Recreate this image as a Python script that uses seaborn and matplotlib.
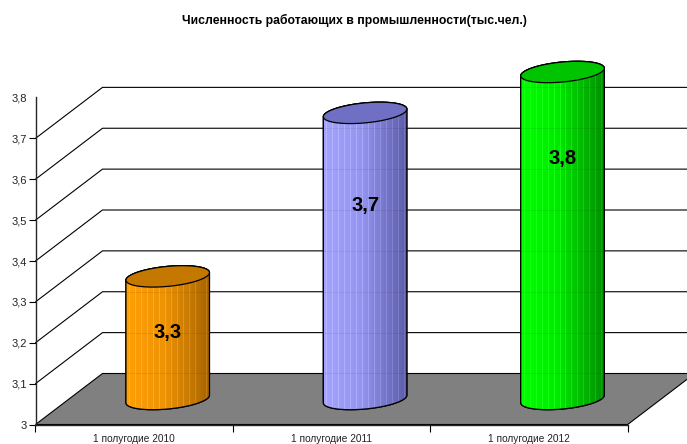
import numpy as np
import pandas as pd
import matplotlib
matplotlib.use("Agg")
import matplotlib.pyplot as plt
import seaborn as sns
from matplotlib.colors import to_rgb
from matplotlib.path import Path
from matplotlib.patches import PathPatch

periods = ["1 полугодие 2010", "1 полугодие 2011", "1 полугодие 2012"]
values = [3.3, 3.7, 3.8]
value_labels = ["3,3", "3,7", "3,8"]
y_ticks = [3, 3.1, 3.2, 3.3, 3.4, 3.5, 3.6, 3.7, 3.8]
y_tick_labels = ["3", "3,1", "3,2", "3,3", "3,4", "3,5", "3,6", "3,7", "3,8"]
wall_levels = [3.1, 3.2, 3.3, 3.4, 3.5, 3.6, 3.7]
title = "Численность работающих в промышленности(тыс.чел.)"

light_colors = ["#ff9f05", "#a3a3ff", "#00ff00"]
dark_colors = ["#a86400", "#5c5ca8", "#009000"]
cap_colors = ["#c47800", "#6f6fc4", "#00c400"]
mid_colors = ["#d98600", "#8080d8", "#00d000"]

sns.set_style("ticks")
plt.rcParams["font.family"] = ["Liberation Sans", "DejaVu Sans"]

df = pd.DataFrame({"period": periods, "value": values})

W, H = 687, 444
fig = plt.figure(figsize=(W / 100, H / 100), dpi=100)
ax = fig.add_axes([35.5 / W, (H - 424.5) / H, (627.7 - 35.5) / W, 327 / H])

px_x = 3 / (627.7 - 35.5)   # category units per pixel
px_y = 0.8 / 327            # value units per pixel
depth_x = 67 * px_x
depth_y = 51 * px_y

sns.barplot(data=df, x="period", y="value", hue="period", palette=mid_colors,
            legend=False, width=83.5 * px_x, saturation=1, ax=ax, zorder=3)
bars = list(ax.patches)
ax.set_xlim(-0.5, 2.5)
ax.set_ylim(3, 3.8)


def ellipse(cx, cy, t):
    # skewed ellipse, right side higher than the left
    ex = cx + 41.75 * px_x * np.cos(t)
    ey = cy + (10 * np.sin(t) + 3.8 * np.cos(t)) * px_y
    return ex, ey


# floor and walls
xmin, xmax = ax.get_xlim()
ax.fill([xmin, xmax, xmax + depth_x, xmin + depth_x],
        [3, 3, 3 + depth_y, 3 + depth_y],
        facecolor="#808080", edgecolor="black", lw=0.8, clip_on=False, zorder=1)
for lev in wall_levels:
    ax.plot([xmin, xmin + depth_x, xmax + depth_x], [lev, lev + depth_y, lev + depth_y],
            color="black", lw=0.8, clip_on=False, zorder=1)

# cylinders on top of the seaborn bars
t_all = np.linspace(0, 2 * np.pi, 200)
for i, bar in enumerate(bars):
    cx = bar.get_x() + bar.get_width() / 2 + depth_x / 2
    top = values[i] + depth_y / 2
    base = 3 + depth_y / 2
    left = bar.get_x() + depth_x / 2
    right = left + bar.get_width()

    # body outline: lower half of the bottom, upper edge taken from the top ellipse
    t_bot = np.linspace(np.pi, 2 * np.pi, 80)
    t_top = np.linspace(0, np.pi, 80)
    bx, by = ellipse(cx, base, t_bot)
    tx, ty = ellipse(cx, top, t_top)
    body = np.column_stack([np.r_[bx, tx], np.r_[by, ty]])
    body_path = Path(np.vstack([body, body[0]]), closed=True)

    bar.set_visible(False)
    outline = PathPatch(body_path, facecolor=mid_colors[i], edgecolor="black",
                        lw=0.9, clip_on=False, zorder=3)
    ax.add_patch(outline)

    # stripes, brighter ones here and there like the original shading
    n = 84
    frac = np.linspace(0, 1, n)[None, :, None]
    c0 = np.array(to_rgb(light_colors[i]))[None, None, :]
    c1 = np.array(to_rgb(dark_colors[i]))[None, None, :]
    shade = np.where(frac < 0.45, 0.0 + frac * 0.45, 0.2 + (frac - 0.45) * 1.45)
    rgb = c0 * (1 - shade) + c1 * shade
    for col in np.arange(3, n, 6):
        rgb[0, col, :] = np.clip(rgb[0, col, :] + 0.08, 0, 1)
    mesh = ax.pcolormesh(np.linspace(left, right, n + 1),
                         [base - 14 * px_y, top + 14 * px_y], rgb,
                         shading="flat", antialiased=False, zorder=3.1)
    mesh.set_clip_path(outline)
    mesh.set_clip_box(None)

    # redraw edge above the stripes
    ax.add_patch(PathPatch(body_path, facecolor="none", edgecolor="black", lw=0.9,
                           clip_on=False, zorder=3.2))

    # faint wall lines showing through the cylinder
    for lev in wall_levels + [3]:
        if lev + depth_y < top:
            ax.plot([left, right], [lev + depth_y, lev + depth_y], color="black",
                    lw=0.6, alpha=0.08, clip_on=False, zorder=3.3)

    # cap
    ex, ey = ellipse(cx, top, t_all)
    ax.fill(ex, ey, facecolor=cap_colors[i], edgecolor="black", lw=0.9,
            clip_on=False, zorder=3.4)

ax.set_xlim(-0.5, 2.5)
ax.set_ylim(3, 3.8)

# value labels sit at their own heights on the cylinders
label_y = [3.2256, 3.535, 3.65]
for i, lab in enumerate(value_labels):
    ax.text(i + depth_x / 2, label_y[i], lab, ha="center", va="center",
            fontsize=14.5, fontweight="bold", color="black", zorder=5, clip_on=False)

ax.set_yticks(y_ticks)
ax.set_yticklabels(y_tick_labels, fontsize=8, color="#222222")
ax.set_xticks([0, 1, 2])
ax.set_xticklabels(periods, fontsize=7.25, color="#222222")
ax.set_xticks([-0.5, 0.5, 1.5, 2.5], minor=True)
ax.tick_params(axis="x", which="major", length=0, pad=6.5)
ax.tick_params(axis="x", which="minor", length=5, width=0.8, color="black")
ax.tick_params(axis="y", length=5, width=0.8, color="black", pad=1)
ax.yaxis.get_major_ticks()[-1].tick1line.set_visible(False)
ax.set_xlabel("")
ax.set_ylabel("")
ax.patch.set_alpha(0)
for side in ["top", "right"]:
    ax.spines[side].set_visible(False)
for side in ["left", "bottom"]:
    ax.spines[side].set_linewidth(1.0)
    ax.spines[side].set_zorder(2)

fig.text(354 / W, (H - 20) / H, title, ha="center", va="center",
         fontsize=8.8, fontweight="bold", color="black")

fig.savefig("out.png", dpi=100)
